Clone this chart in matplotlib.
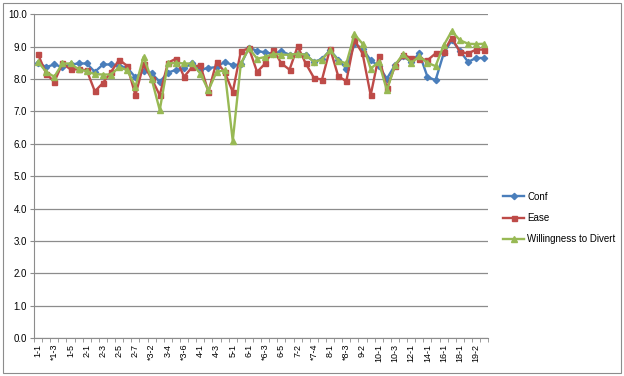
import numpy as np
import matplotlib
matplotlib.use('Agg')
import matplotlib.pyplot as plt
from matplotlib.patches import Rectangle

plt.rcParams['font.family'] = ['Liberation Sans', 'DejaVu Sans']

# category names (only every second one is shown on the axis)
categories = ['1-1', '1-2', '*1-3', '1-4', '1-5', '1-6', '2-1', '2-2', '2-3', '2-4',
              '2-5', '2-6', '2-7', '*3-1', '*3-2', '3-3', '3-4', '3-5', '*3-6', '3-7',
              '4-1', '4-2', '4-3', '4-4', '5-1', '5-2', '6-1', '6-2', '*6-3', '6-4',
              '6-5', '7-1', '7-2', '7-3', '*7-4', '7-5', '8-1', '8-2', '*8-3', '9-1',
              '9-2', '9-3', '10-1', '10-2', '10-3', '11-1', '12-1', '13-1', '14-1', '15-1',
              '16-1', '17-1', '18-1', '19-1', '19-2', '19-3']

conf = [8.50, 8.37, 8.45, 8.37, 8.45, 8.48, 8.48, 8.22, 8.45, 8.45,
        8.40, 8.35, 8.05, 8.25, 8.18, 7.91, 8.20, 8.28, 8.33, 8.50,
        8.29, 8.34, 8.37, 8.53, 8.43, 8.45, 8.97, 8.87, 8.82, 8.78,
        8.86, 8.75, 8.78, 8.75, 8.53, 8.62, 8.89, 8.60, 8.32, 9.09,
        8.94, 8.58, 8.40, 8.01, 8.43, 8.70, 8.53, 8.79, 8.07, 7.96,
        8.79, 9.20, 8.88, 8.53, 8.65, 8.65]

ease = [8.76, 8.17, 7.91, 8.48, 8.30, 8.30, 8.27, 7.62, 7.88, 8.22,
        8.60, 8.40, 7.50, 8.45, 8.01, 7.50, 8.50, 8.63, 8.07, 8.37,
        8.43, 7.60, 8.53, 8.22, 7.60, 8.86, 8.95, 8.22, 8.48, 8.91,
        8.48, 8.29, 9.01, 8.48, 8.04, 7.98, 8.94, 8.09, 7.93, 9.20,
        8.79, 7.50, 8.71, 7.71, 8.40, 8.75, 8.65, 8.63, 8.58, 8.79,
        8.84, 9.28, 8.84, 8.79, 8.91, 8.91]

willing = [8.53, 8.22, 8.07, 8.48, 8.48, 8.30, 8.24, 8.15, 8.14, 8.14,
           8.37, 8.27, 7.76, 8.68, 8.00, 7.04, 8.48, 8.50, 8.48, 8.48,
           8.17, 7.65, 8.22, 8.27, 6.09, 8.48, 8.95, 8.63, 8.68, 8.78,
           8.75, 8.75, 8.78, 8.75, 8.53, 8.60, 8.89, 8.57, 8.48, 9.38,
           9.09, 8.32, 8.53, 7.65, 8.43, 8.77, 8.50, 8.70, 8.50, 8.40,
           9.04, 9.48, 9.20, 9.09, 9.08, 9.09]

series = [('Conf', conf, '#4A7EBB', 'D', 3.2),
          ('Ease', ease, '#BE4B48', 's', 3.6),
          ('Willingness to Divert', willing, '#98B954', '^', 4.0)]

fig = plt.figure(figsize=(6.24, 3.76), dpi=100)
ax = fig.add_axes([0.0545, 0.101, 0.728, 0.861])

x = np.arange(len(categories))
for name, vals, color, marker, ms in series:
    ax.plot(x, vals, color=color, marker=marker, markersize=ms, linewidth=1.7,
            markeredgecolor=color, label=name)

ax.set_xlim(-0.5, len(categories) - 0.5)
ax.set_ylim(0, 10)
ax.set_yticks(np.arange(0, 10.5, 1.0))
ax.set_yticklabels([f'{v:.1f}' for v in np.arange(0, 10.5, 1.0)], fontsize=7)
ax.yaxis.grid(True, color='#8c8c8c', linewidth=0.9)
ax.set_axisbelow(True)

# labels on every second category, tick marks on category boundaries
ax.set_xticks(x[::2])
ax.set_xticklabels(categories[::2], rotation=90, fontsize=6.5)
ax.tick_params(axis='x', length=0, pad=4)
ax.set_xticks(np.arange(-0.5, len(categories), 1.0), minor=True)
ax.tick_params(axis='x', which='minor', length=3, color='#8c8c8c')
ax.tick_params(axis='y', length=3, color='#8c8c8c', pad=2)

for side in ['top', 'right']:
    ax.spines[side].set_visible(False)
ax.spines['left'].set_color('#8c8c8c')
ax.spines['bottom'].set_color('#8c8c8c')

fig.legend(loc='center left', bbox_to_anchor=(0.792, 0.42), frameon=False,
           fontsize=7, handlelength=2.2, labelspacing=1.15, handletextpad=0.3)

fig.patches.append(Rectangle((0.005, 0.008), 0.99, 0.984, transform=fig.transFigure,
                             fill=False, edgecolor='#8c8c8c', linewidth=0.8))

fig.savefig('out.png', dpi=100)
